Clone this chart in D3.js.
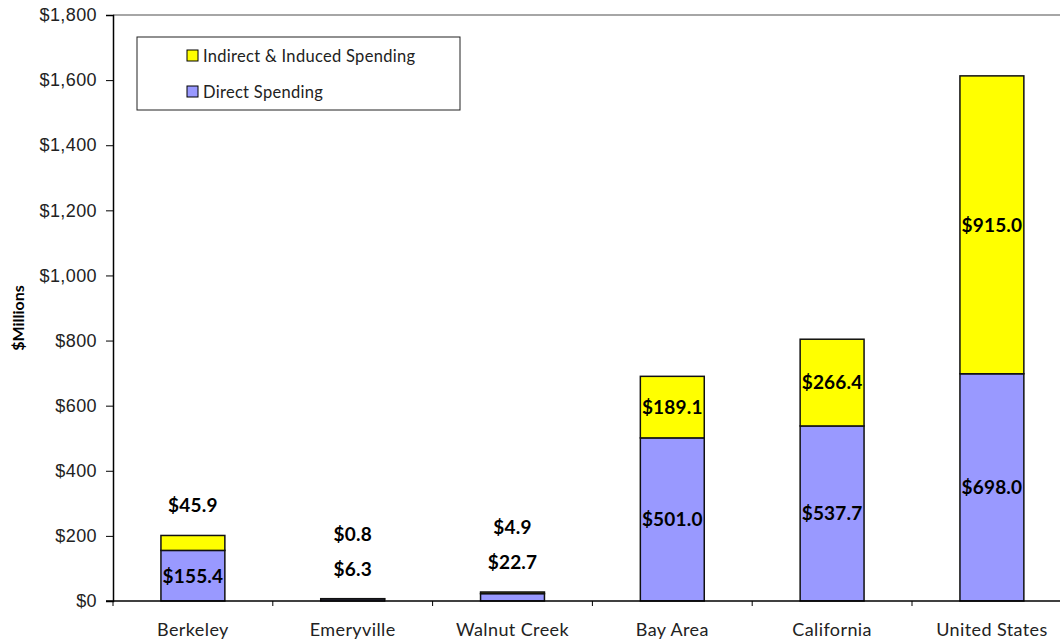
<!DOCTYPE html>
<html>
<head>
<meta charset="utf-8">
<script src="https://cdn.jsdelivr.net/npm/d3@7"></script>
<style>
  body { margin: 0; background: #fff; }
  svg { display: block; font-family: Lato, "Noto Sans", sans-serif; }
</style>
</head>
<body>
<script>
const categories = ["Berkeley", "Emeryville", "Walnut Creek", "Bay Area", "California", "United States"]
const direct = [155.4, 6.3, 22.7, 501.0, 537.7, 698.0]
const indirect = [45.9, 0.8, 4.9, 189.1, 266.4, 915.0]
const yTicks = [0, 200, 400, 600, 800, 1000, 1200, 1400, 1600, 1800]

const series = [
    { key: "direct", name: "Direct Spending", values: direct, color: "#9999FF" },
    { key: "indirect", name: "Indirect & Induced Spending", values: indirect, color: "#FFFF00" }
]

const width = 1060
const height = 641
const marginLeft = 113
const marginTop = 15
const bottomY = 601
const bandStep = 159.8

const x = d3.scaleBand()
    .domain(categories)
    .range([marginLeft, marginLeft + bandStep * categories.length])
    .paddingInner(0.6)
    .paddingOuter(0.3)

const y = d3.scaleLinear([0, 1800], [bottomY, marginTop])
const fmt = d3.format(",.0f")

const svg = d3.select("body").append("svg")
    .attr("width", width)
    .attr("height", height)

// top frame line
svg.append("line")
    .attr("x1", marginLeft).attr("x2", width)
    .attr("y1", y(1800)).attr("y2", y(1800))
    .attr("stroke", "#888").attr("stroke-width", 1.5)

const stacked = d3.stack()
    .keys([0, 1])
    .value((d, k) => series[k].values[d])(d3.range(categories.length))

svg.append("g")
    .selectAll("g")
    .data(stacked)
    .join("g")
    .attr("fill", (d, i) => series[i].color)
    .selectAll("rect")
    .data(d => d)
    .join("rect")
    .attr("x", d => x(categories[d.data]))
    .attr("width", x.bandwidth())
    .attr("y", d => y(d[1]))
    .attr("height", d => y(d[0]) - y(d[1]))
    .attr("stroke", "#111")
    .attr("stroke-width", 1.5)

// y axis
const yAxis = svg.append("g")
    .attr("transform", `translate(${marginLeft},0)`)
    .call(d3.axisLeft(y).tickValues(yTicks).tickSize(7).tickPadding(9).tickFormat(d => "$" + fmt(d)))
yAxis.select(".domain").attr("stroke", "#000").attr("stroke-width", 1.5)
yAxis.selectAll("text").attr("font-size", 18).attr("letter-spacing", 0.4).attr("fill", "#222")

// x axis
const bands = d3.range(categories.length + 1).map(i => marginLeft + i * bandStep)
svg.append("line")
    .attr("x1", marginLeft - 7).attr("x2", width)
    .attr("y1", bottomY).attr("y2", bottomY)
    .attr("stroke", "#000").attr("stroke-width", 1.5)
svg.append("g").selectAll("line")
    .data(bands)
    .join("line")
    .attr("x1", d => d).attr("x2", d => d)
    .attr("y1", bottomY).attr("y2", bottomY + 5)
    .attr("stroke", "#000")
svg.append("g").selectAll("text")
    .data(categories)
    .join("text")
    .attr("x", d => x(d) + x.bandwidth() / 2)
    .attr("y", 636)
    .attr("text-anchor", "middle")
    .attr("font-size", 18)
    .attr("letter-spacing", 0.4)
    .attr("fill", "#222")
    .text(d => d)

svg.append("text")
    .attr("transform", `translate(24,${(marginTop + bottomY) / 2 + 10}) rotate(-90)`)
    .attr("text-anchor", "middle")
    .attr("font-size", 16)
    .attr("font-weight", "bold")
    .text("$Millions")

// value labels: centred in tall segments, stacked above the bar for thin ones
const labelData = []
categories.forEach((c, i) => {
    const top = y(direct[i] + indirect[i])
    let prev = null
    stacked.forEach((s, k) => {
        const y0 = y(s[i][0]), y1 = y(s[i][1])
        let ly
        if (y0 - y1 >= 25) ly = (y0 + y1) / 2
        else ly = prev !== null && prev < top ? prev - 35 : top - 30
        prev = ly
        labelData.push({ c, ly, v: series[k].values[i] })
    })
})
svg.append("g").selectAll("text")
    .data(labelData)
    .join("text")
    .attr("x", d => x(d.c) + x.bandwidth() / 2)
    .attr("y", d => d.ly)
    .attr("dy", "0.36em")
    .attr("text-anchor", "middle")
    .attr("font-size", 19)
    .attr("letter-spacing", 0.2)
    .attr("font-weight", "bold")
    .text(d => "$" + d3.format(".1f")(d.v))

// legend
const legend = svg.append("g").attr("transform", "translate(137,37)")
legend.append("rect")
    .attr("width", 323).attr("height", 73)
    .attr("fill", "#fff").attr("stroke", "#222")
legend.selectAll("g")
    .data(series.slice().reverse())
    .join("g")
    .attr("transform", (d, i) => `translate(50,${19 + i * 36})`)
    .call(g => g.append("rect")
        .attr("x", 0).attr("y", -6).attr("width", 11).attr("height", 11)
        .attr("fill", d => d.color).attr("stroke", "#000"))
    .call(g => g.append("text")
        .attr("x", 16).attr("dy", "0.35em")
        .attr("font-size", 16.5)
        .attr("letter-spacing", 0.3)
        .attr("fill", "#222")
        .text(d => d.name))
</script>
</body>
</html>
